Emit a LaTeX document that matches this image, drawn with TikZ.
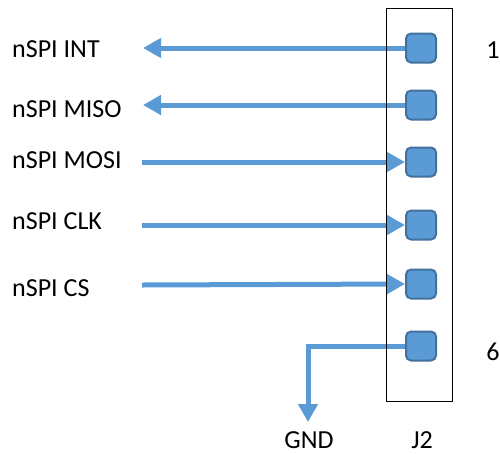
\documentclass[tikz,border=0pt]{standalone}
\usepackage{fontspec}
\setmainfont{Carlito}
\usetikzlibrary{arrows.meta,backgrounds}
\definecolor{pinfill}{HTML}{5B9BD5}
\definecolor{pinedge}{HTML}{41719C}
\begin{document}
\begin{tikzpicture}[x=1pt,y=-1pt,
  pin/.style={draw=pinedge,fill=pinfill,line width=2pt,rounded corners=5pt,minimum width=30pt,minimum height=29pt,inner sep=0pt},
  wire/.style={draw=pinfill,line width=5pt,-{Triangle[length=18pt,width=19pt]}},
  lbl/.style={font=\fontsize{26}{30}\selectfont,inner sep=0pt,anchor=west},
  num/.style={font=\fontsize{26}{30}\selectfont,inner sep=0pt}]
\useasboundingbox (0,0) rectangle (500,453);
\draw[line width=1pt] (386,8) rectangle (452,401);
\node[pin] (p1) at (421,48) {};
\node[pin] (p2) at (421,105) {};
\node[pin] (p3) at (421,162) {};
\node[pin] (p4) at (421,225) {};
\node[pin] (p5) at (421,284) {};
\node[pin] (p6) at (421,346) {};
\node[lbl] (l1) at (12,49) {nSPI INT};
\node[lbl] (l2) at (12,109) {nSPI MISO};
\node[lbl] (l3) at (12,160) {nSPI MOSI};
\node[lbl] (l4) at (12,221) {nSPI CLK};
\node[lbl] (l5) at (12,288) {nSPI CS};
\coordinate (a1) at (143,48);
\coordinate (a2) at (143,105);
\coordinate (s3) at (142,162);
\coordinate (s4) at (142,225);
\coordinate (s5) at (142,285);
\coordinate (g) at (308,422);
\begin{scope}[on background layer]
\draw[wire] (p1.west) -- (a1);
\draw[wire] (p2.west) -- (a2);
\draw[wire] (s3) -- (p3.west);
\draw[wire] (s4) -- (p4.west);
\draw[wire] (s5) -- (p5.west);
\draw[wire] (p6.west) -- (308,346) -- (g);
\end{scope}
\node[num] (n1) at (493,50) {1};
\node[num] (n6) at (493,352) {6};
\node[num,anchor=base] (gnd) at (309,448) {GND};
\node[num,anchor=base] (j2) at (422,448) {J2};
\end{tikzpicture}
\end{document}
